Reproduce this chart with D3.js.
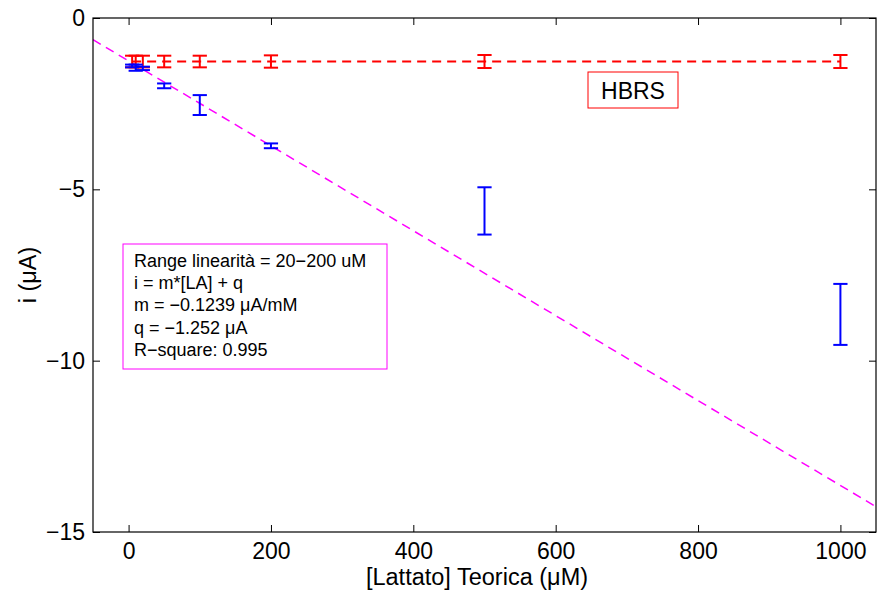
<!DOCTYPE html>
<html>
<head>
<meta charset="utf-8">
<script src="https://cdn.jsdelivr.net/npm/d3@7"></script>
<style>
  html, body { margin: 0; padding: 0; background: #fff; }
  svg { display: block; font-family: "Liberation Sans", Arial, Helvetica, sans-serif; }
</style>
</head>
<body>
<svg id="chart" width="878" height="594"></svg>
<script>
// Lactate concentrations (µM)
const concBlue = [5, 10, 20, 50, 100, 200, 500, 1000];
const concRed  = [5, 10, 20, 50, 100, 200, 500, 1000];

// Measured current, mean and half error (µA)
const meanBlue = [-1.40, -1.45, -1.47, -1.98, -2.54, -3.73, -5.63, -8.65];
const errBlue  = [0.04, 0.09, 0.05, 0.07, 0.29, 0.07, 0.69, 0.89];
const meanRed  = [-1.27, -1.27, -1.27, -1.27, -1.27, -1.27, -1.27, -1.27];
const errRed   = [0.17, 0.17, 0.17, 0.17, 0.17, 0.18, 0.19, 0.19];

// Linear fit over the 20–200 µM range
const fitCoef = [-0.01239, -1.252];   // slope (µA/µM), intercept (µA)
const fitRange = [-50, 1050];

const xTicks = [0, 200, 400, 600, 800, 1000];
const yTicks = [0, -5, -10, -15];

const noteLines = [
  "Range linearità = 20−200 uM",
  "i = m*[LA] + q",
  "m = −0.1239 μA/mM",
  "q = −1.252 μA",
  "R−square: 0.995"
];
const seriesLabel = "HBRS";

const W = 878, H = 594;
const margin = { left: 93, right: 2, top: 18, bottom: 62 };
const pw = W - margin.left - margin.right;
const ph = H - margin.top - margin.bottom;

const svg = d3.select("#chart");
const g = svg.append("g").attr("transform", `translate(${margin.left},${margin.top})`);

const x = d3.scaleLinear().domain([-50, 1050]).range([0, pw]);
const y = d3.scaleLinear().domain([-15, 0]).range([ph, 0]);

svg.append("defs").append("clipPath").attr("id", "plotclip")
  .append("rect").attr("width", pw).attr("height", ph);

const plot = g.append("g").attr("clip-path", "url(#plotclip)");

// Fit line
const fitPts = fitRange.map(v => [v, fitCoef[0] * v + fitCoef[1]]);
plot.append("path")
  .datum(fitPts)
  .attr("d", d3.line().x(d => x(d[0])).y(d => y(d[1])))
  .attr("fill", "none")
  .attr("stroke", "#ff00ff")
  .attr("stroke-width", 1.5)
  .attr("stroke-dasharray", "9,6");

// Red series: dashed connecting line
const redPts = concRed.map((c, i) => [c, meanRed[i]]);
plot.append("path")
  .datum(redPts)
  .attr("d", d3.line().x(d => x(d[0])).y(d => y(d[1])))
  .attr("fill", "none")
  .attr("stroke", "#ff0000")
  .attr("stroke-width", 1.8)
  .attr("stroke-dasharray", "9,6");

const capHalf = 10; // data units (µM) on each side

function errorBars(conc, mean, err, color) {
  const data = conc.map((c, i) => ({ c, lo: mean[i] - err[i], hi: mean[i] + err[i] }));
  const eg = plot.append("g").attr("stroke", color).attr("stroke-width", 2).attr("fill", "none");
  eg.selectAll("line.v").data(data).join("line")
    .attr("x1", d => x(d.c)).attr("x2", d => x(d.c))
    .attr("y1", d => y(d.lo)).attr("y2", d => y(d.hi));
  eg.selectAll("line.top").data(data).join("line")
    .attr("x1", d => x(d.c - capHalf)).attr("x2", d => x(d.c + capHalf))
    .attr("y1", d => y(d.hi)).attr("y2", d => y(d.hi));
  eg.selectAll("line.bot").data(data).join("line")
    .attr("x1", d => x(d.c - capHalf)).attr("x2", d => x(d.c + capHalf))
    .attr("y1", d => y(d.lo)).attr("y2", d => y(d.lo));
}
errorBars(concRed, meanRed, errRed, "#ff0000");
errorBars(concBlue, meanBlue, errBlue, "#0000ff");

// Axes box with inward ticks on all sides
const tickLen = 7;
const numFmt = v => String(v).replace("-", "\u2212");
const axisStyle = sel => {
  sel.select(".domain").remove();
  sel.selectAll(".tick line").attr("stroke", "#000").attr("stroke-width", 1);
  sel.selectAll("text").attr("fill", "#000").attr("font-size", 23)
    .attr("font-family", "Liberation Sans, Arial, sans-serif");
};

g.append("g").attr("transform", `translate(0,${ph})`)
  .call(d3.axisBottom(x).tickValues(xTicks).tickFormat(numFmt)
    .tickSizeInner(-tickLen).tickSizeOuter(0).tickPadding(11))
  .call(axisStyle);
g.append("g")
  .call(d3.axisTop(x).tickValues(xTicks).tickSizeInner(-tickLen).tickSizeOuter(0).tickFormat(""))
  .call(axisStyle);
g.append("g")
  .call(d3.axisLeft(y).tickValues(yTicks).tickFormat(numFmt)
    .tickSizeInner(-tickLen).tickSizeOuter(0).tickPadding(8))
  .call(axisStyle);
g.append("g").attr("transform", `translate(${pw},0)`)
  .call(d3.axisRight(y).tickValues(yTicks).tickSizeInner(-tickLen).tickSizeOuter(0).tickFormat(""))
  .call(axisStyle);

g.append("rect").attr("width", pw).attr("height", ph)
  .attr("fill", "none").attr("stroke", "#000").attr("stroke-width", 1.2);

// Axis titles
svg.append("text")
  .attr("x", 477).attr("y", 585)
  .attr("text-anchor", "middle").attr("font-size", 23.5).attr("fill", "#000")
  .text("[Lattato] Teorica (μM)");
svg.append("text")
  .attr("transform", `translate(36,${margin.top + y(-7.5)}) rotate(-90)`)
  .attr("text-anchor", "middle").attr("font-size", 23.5).attr("fill", "#000")
  .text("i (μA)");

// Fit annotation box
const note = g.append("g").attr("transform", `translate(${123 - margin.left},${244 - margin.top})`);
note.append("rect").attr("width", 264).attr("height", 125)
  .attr("fill", "#fff").attr("stroke", "#ff00ff").attr("stroke-width", 1);
note.selectAll("text").data(noteLines).join("text")
  .attr("x", 11).attr("y", (d, i) => 23 + i * 22.2)
  .attr("font-size", 18).attr("fill", "#000")
  .text(d => d);

// Series label box
const lab = g.append("g").attr("transform", `translate(${588 - margin.left},${72 - margin.top})`);
lab.append("rect").attr("width", 90).attr("height", 36)
  .attr("fill", "#fff").attr("stroke", "#ff0000").attr("stroke-width", 1);
lab.append("text").attr("x", 45).attr("y", 26.5).attr("text-anchor", "middle")
  .attr("font-size", 23).attr("fill", "#000").text(seriesLabel);
</script>
</body>
</html>
